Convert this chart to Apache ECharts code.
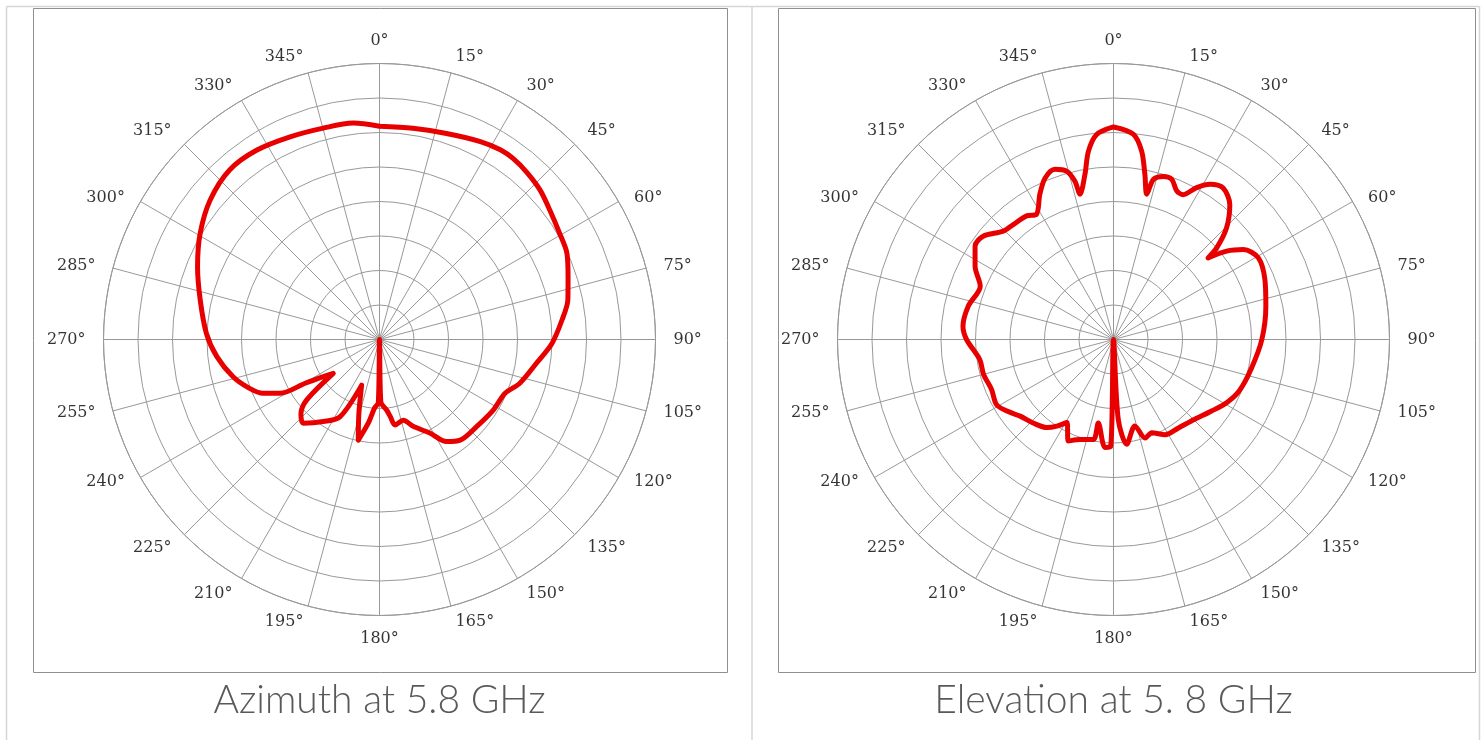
<!DOCTYPE html>
<html>
<head>
<meta charset="utf-8">
<script src="https://cdn.jsdelivr.net/npm/echarts@6/dist/echarts.min.js"></script>
<style>
  html, body { margin: 0; padding: 0; background: #ffffff; }
  #chart { width: 1481px; height: 740px; }
</style>
</head>
<body>
<div id="chart"></div>
<script>
// ---- axis ticks ----
const tickAngles = [0, 15, 30, 45, 60, 75, 90, 105, 120, 135, 150, 165, 180, 195, 210, 225, 240, 255, 270, 285, 300, 315, 330, 345];
const tickLabels = ['0°', '15°', '30°', '45°', '60°', '75°', '90°', '105°', '120°', '135°', '150°', '165°', '180°', '195°', '210°', '225°', '240°', '255°', '270°', '285°', '300°', '315°', '330°', '345°'];
const gainMin = -40;
const gainMax = 0;
const gainStep = 5;

// ---- captions ----
const captions = ['Azimuth at 5.8 GHz', 'Elevation at 5. 8 GHz'];

// ---- Azimuth at 5.8 GHz (angle in degrees, relative gain in dB) ----
const azimuthAngles = [0, 9, 18, 27, 32.5, 36.5, 41.3, 47, 52.8, 59.5, 65.3, 71.6, 78.1, 83.9, 91.3, 98.6, 107.3, 113.2, 121.8, 131.9,
  141.3, 146.7, 151.7, 158.8, 163.5, 169.7, 172, 174.2, 178.8, 180, 181.1, 184, 187.6, 191.9, 195.5, 201.4, 207.1, 214.4, 222.3, 226.5,
  230.3, 233.8, 237.5, 239.5, 241.6, 245.2, 250, 255.7, 264, 272, 282.4, 291.8, 300.6, 309.5, 318.6, 327.1, 336.2, 345.1, 353.1, 360];
const azimuthGain = [-9.1, -9.0, -8.6, -7.8, -7.4, -7.4, -7.7, -8.2, -9.0, -9.7, -10.1, -11.2, -12.1, -13.4, -15.0, -17.0, -18.7, -20.2, -20.6, -21.1,
  -21.3, -22.3, -24.6, -26.5, -27.8, -27.4, -28.7, -29.7, -31.0, -40, -30.8, -30.1, -27.8, -25.1, -28.8, -32.9, -27.4, -25.6, -23.6, -24.3,
  -26.3, -31.7, -29.6, -27.5, -23.6, -21.4, -19.7, -18.1, -16.3, -14.9, -13.4, -11.6, -9.8, -8.2, -7.2, -7.3, -7.9, -8.3, -8.4, -9.1];

// ---- Elevation at 5.8 GHz ----
const elevationAngles = [0, 5.5, 8.5, 10.8, 12.9, 14, 17, 20, 23.1, 25.7, 28.7, 31.9, 35.9, 40.8, 45.4, 48.4, 49.2, 52, 55.3, 60.6,
  68.4, 77.7, 90, 102.1, 112, 119, 126.1, 134.5, 143.7, 151.5, 157.7, 162.2, 166.1, 172.8, 176.6, 180, 181.5, 184.5, 190.3, 191.4,
  198.5, 204, 209.3, 213.2, 217.1, 223.9, 230.6, 236.1, 240.9, 247.7, 255, 261.5, 270, 275, 282.9, 291.8, 297.9, 304, 308.4, 314.5,
  318.9, 324.9, 328.4, 333.1, 337, 341, 344.5, 346.3, 347, 350.2, 352.4, 355.3, 360];
const elevationGain = [-9.2, -10.1, -12.4, -15.7, -18.4, -16.1, -15.3, -15.3, -16.6, -16.7, -14.9, -13.5, -12.9, -14.2, -17.0, -20.0, -21.9, -19.2, -17.1, -15.9,
  -16.4, -17.4, -18.5, -19.6, -20.3, -21.2, -22.4, -23.5, -24.1, -24.3, -25.4, -25.0, -27.1, -24.7, -28.4, -40, -24.5, -24.3, -27.7, -25.2,
  -24.7, -23.9, -26.2, -25.0, -24.0, -23.2, -22.5, -21.4, -20.6, -20.9, -20.5, -20.4, -18.7, -18.1, -18.4, -19.2, -17.3, -15.8, -15.9, -17.6,
  -17.9, -18.1, -18.7, -16.4, -14.6, -13.9, -14.7, -16.4, -18.4, -15.7, -12.5, -10.2, -9.2];

// ---- styling / layout ----
const GRID = '#999999';
const TRACE = '#e80000';
const centers = [[379.5, 339.5], [1113.5, 339.5]];
const R = 276;

function angleAxisCfg(i) {
  return {
    polarIndex: i, type: 'value', min: 0, max: 360, interval: 15,
    startAngle: 90, clockwise: true,
    axisLine: { show: true, lineStyle: { color: GRID, width: 1 } },
    axisTick: { show: false },
    axisLabel: { show: false },
    splitLine: { show: true, lineStyle: { color: GRID, width: 1 } }
  };
}
function radiusAxisCfg(i) {
  return {
    polarIndex: i, type: 'value', min: gainMin, max: gainMax, interval: gainStep,
    axisLine: { show: false }, axisTick: { show: false }, axisLabel: { show: false },
    splitLine: { show: true, lineStyle: { color: GRID, width: 1 } }
  };
}
function traceSeries(i, angles, gains, name) {
  return {
    name: name, type: 'line', coordinateSystem: 'polar', polarIndex: i,
    data: angles.map((a, k) => [gains[k], a]),
    symbol: 'none', smooth: 0.3, clip: false,
    lineStyle: { color: TRACE, width: 5, join: 'round', cap: 'round' },
    z: 5, silent: true
  };
}
function labelSeries(i) {
  return {
    type: 'scatter', coordinateSystem: 'polar', polarIndex: i,
    symbolSize: 1, clip: false, silent: true, z: 6,
    itemStyle: { color: 'transparent' },
    data: tickAngles.map((a, k) => {
      const t = a * Math.PI / 180, s = Math.sin(t), c = Math.cos(t);
      let align, vAlign, offset;
      if (Math.abs(s) < 0.1) {
        align = 'center'; vAlign = c > 0 ? 'bottom' : 'top'; offset = [0, -c * 15];
      } else {
        align = s > 0 ? 'left' : 'right';
        vAlign = c > 0.6 ? 'bottom' : (c < -0.6 ? 'top' : 'middle');
        offset = [18 * s, -8 * c];
      }
      return {
        value: [gainMax, a], name: tickLabels[k],
        label: { align: align, verticalAlign: vAlign, offset: offset }
      };
    }),
    label: {
      show: true, position: 'inside', formatter: '{b}',
      fontFamily: 'DejaVu Serif', fontSize: 16, color: '#000000'
    }
  };
}

const chart = echarts.init(document.getElementById('chart'), null, { renderer: 'canvas' });
chart.setOption({
  backgroundColor: '#ffffff',
  animation: false,
  polar: [
    { center: centers[0], radius: R },
    { center: centers[1], radius: R }
  ],
  angleAxis: [angleAxisCfg(0), angleAxisCfg(1)],
  radiusAxis: [radiusAxisCfg(0), radiusAxisCfg(1)],
  series: [
    traceSeries(0, azimuthAngles, azimuthGain, captions[0]),
    traceSeries(1, elevationAngles, elevationGain, captions[1]),
    labelSeries(0),
    labelSeries(1)
  ],
  graphic: [
    // page frame
    { type: 'line', shape: { x1: 6.5, y1: 6.5, x2: 1479.5, y2: 6.5 }, style: { stroke: '#d6d6d6', lineWidth: 1.5 }, silent: true },
    { type: 'line', shape: { x1: 6.5, y1: 6.5, x2: 6.5, y2: 740 }, style: { stroke: '#d6d6d6', lineWidth: 1.5 }, silent: true },
    { type: 'line', shape: { x1: 752, y1: 6.5, x2: 752, y2: 740 }, style: { stroke: '#d6d6d6', lineWidth: 1.5 }, silent: true },
    { type: 'line', shape: { x1: 1479.5, y1: 6.5, x2: 1479.5, y2: 740 }, style: { stroke: '#d6d6d6', lineWidth: 1.5 }, silent: true },
    // chart boxes
    { type: 'rect', shape: { x: 33.5, y: 8.5, width: 694, height: 664 }, style: { fill: 'none', stroke: '#8f8f8f', lineWidth: 1 }, silent: true, z: -1 },
    { type: 'rect', shape: { x: 778.5, y: 8.5, width: 697, height: 664 }, style: { fill: 'none', stroke: '#8f8f8f', lineWidth: 1 }, silent: true, z: -1 },
    // captions
    { type: 'text', x: 379.5, y: 700, style: { text: captions[0], align: 'center', verticalAlign: 'middle', font: '300 39px Lato', fill: '#595959' }, silent: true },
    { type: 'text', x: 1113.5, y: 700, style: { text: captions[1], align: 'center', verticalAlign: 'middle', font: '300 39px Lato', fill: '#595959' }, silent: true }
  ]
});
</script>
</body>
</html>
